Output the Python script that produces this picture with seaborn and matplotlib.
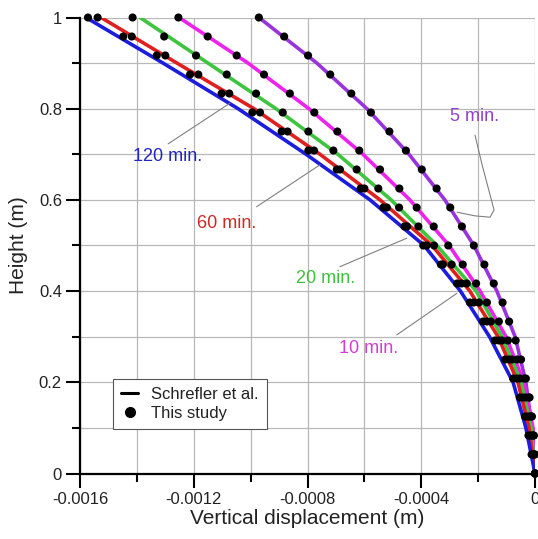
import pandas as pd
import seaborn as sns
import matplotlib.pyplot as plt
from matplotlib.lines import Line2D
from matplotlib.ticker import MultipleLocator

sns.set_theme(style="white")
plt.rcParams['font.family'] = ['Liberation Sans', 'DejaVu Sans']
plt.rcParams['axes.unicode_minus'] = False

# --- data ---
times = ['5 min.', '10 min.', '20 min.', '60 min.', '120 min.']
colors = {'5 min.': '#9933dd', '10 min.': '#ee22ee', '20 min.': '#3ec43e',
          '60 min.': '#e02020', '120 min.': '#1c1cdc'}
text_colors = {'5 min.': '#9040d0', '10 min.': '#d040d0', '20 min.': '#40c040',
               '60 min.': '#d02828', '120 min.': '#2424c0'}

# Schrefler et al. curves (height in m, displacement in m)
line_height = [1.0, 0.9, 0.8, 0.7, 0.6, 0.5, 0.4, 0.3, 0.2, 0.1, 0.0]
line_5 = [-0.000971, -0.000767, -0.000591, -0.000443, -0.000317, -0.000215,
          -0.000134, -0.000070, -0.000032, -0.000011, 0.0]
line_10 = [-0.001252, -0.001009, -0.000795, -0.000605, -0.000440, -0.000302,
           -0.000193, -0.000102, -0.000039, -0.000007, 0.0]
line_20 = [-0.001389, -0.001150, -0.000911, -0.000693, -0.000506, -0.000345,
           -0.000207, -0.000116, -0.000049, -0.000014, 0.0]
line_60 = [-0.001526, -0.001259, -0.000988, -0.000756, -0.000545, -0.000362,
           -0.000229, -0.000130, -0.000060, -0.000021, 0.0]
line_120 = [-0.001579, -0.001308, -0.001044, -0.000805, -0.000580, -0.000390,
            -0.000262, -0.000160, -0.000077, -0.000032, 0.0]

# This study (dots)
dot_height = [1.0, 0.9583, 0.9167, 0.875, 0.8333, 0.7917, 0.75, 0.7083, 0.6667,
              0.625, 0.5833, 0.5417, 0.5, 0.4583, 0.4167, 0.375, 0.3333, 0.2917,
              0.25, 0.2083, 0.1667, 0.125, 0.0833, 0.0417, 0.0]
dot_5 = [-0.000971, -0.000882, -0.000798, -0.000720, -0.000646, -0.000577,
         -0.000512, -0.000454, -0.000398, -0.000346, -0.000298, -0.000257,
         -0.000215, -0.000178, -0.000145, -0.000114, -0.000091, -0.000068,
         -0.000049, -0.000032, -0.000019, -0.000011, -0.000004, 0.0, 0.0]
dot_10 = [-0.001254, -0.001151, -0.001049, -0.000953, -0.000862, -0.000776,
          -0.000695, -0.000618, -0.000545, -0.000477, -0.000416, -0.000356,
          -0.000305, -0.000254, -0.000207, -0.000169, -0.000127, -0.000095,
          -0.000063, -0.000039, -0.000021, -0.000012, -0.000005, -0.000002, 0.0]
dot_20 = [-0.001415, -0.001304, -0.001192, -0.001084, -0.000981, -0.000887,
          -0.000797, -0.000709, -0.000627, -0.000551, -0.000478, -0.000410,
          -0.000355, -0.000293, -0.000240, -0.000197, -0.000155, -0.000116,
          -0.000081, -0.000053, -0.000032, -0.000019, -0.000011, -0.000004, 0.0]
dot_60 = [-0.001538, -0.001418, -0.001300, -0.001184, -0.001075, -0.000967,
          -0.000870, -0.000777, -0.000686, -0.000600, -0.000521, -0.000450,
          -0.000381, -0.000324, -0.000258, -0.000215, -0.000169, -0.000127,
          -0.000091, -0.000063, -0.000042, -0.000026, -0.000016, -0.000007, 0.0]
dot_120 = [-0.001572, -0.001448, -0.001330, -0.001213, -0.001102, -0.000994,
           -0.000891, -0.000797, -0.000697, -0.000613, -0.000533, -0.000459,
           -0.000393, -0.000331, -0.000274, -0.000229, -0.000183, -0.000141,
           -0.000105, -0.000077, -0.000053, -0.000035, -0.000023, -0.000012, 0.0]

x_ticks = [-0.0016, -0.0012, -0.0008, -0.0004, 0.0]
x_ticklabels = ['-0.0016', '-0.0012', '-0.0008', '-0.0004', '0']
y_ticks = [0.0, 0.2, 0.4, 0.6, 0.8, 1.0]
y_ticklabels = ['0', '0.2', '0.4', '0.6', '0.8', '1']

lines = {'5 min.': line_5, '10 min.': line_10, '20 min.': line_20,
         '60 min.': line_60, '120 min.': line_120}
dots = {'5 min.': dot_5, '10 min.': dot_10, '20 min.': dot_20,
        '60 min.': dot_60, '120 min.': dot_120}

df_lines = pd.concat([pd.DataFrame({'disp': lines[t], 'height': line_height, 'time': t})
                      for t in times], ignore_index=True)
df_dots = pd.concat([pd.DataFrame({'disp': dots[t], 'height': dot_height, 'time': t})
                     for t in times], ignore_index=True)

# --- plot ---
fig = plt.figure(figsize=(5.38, 5.39), dpi=100)
ax = fig.add_axes([80 / 538, 1 - 473.5 / 539, 455 / 538, 456 / 539])

sns.lineplot(data=df_lines, x='disp', y='height', hue='time', hue_order=times,
             palette=colors, sort=False, estimator=None, linewidth=2.6,
             legend=False, ax=ax, zorder=2)
sns.scatterplot(data=df_dots, x='disp', y='height', color='black', s=34,
                edgecolor='none', legend=False, ax=ax, zorder=3, clip_on=False)

ax.set_xlim(-0.0016, 0)
ax.set_ylim(0, 1)
ax.set_xticks(x_ticks)
ax.set_xticklabels(x_ticklabels)
ax.set_yticks(y_ticks)
ax.set_yticklabels(y_ticklabels)
ax.xaxis.set_minor_locator(MultipleLocator(0.0002))
ax.yaxis.set_minor_locator(MultipleLocator(0.1))
ax.grid(which='both', color='#b8b8b8', linewidth=0.9)
ax.set_axisbelow(True)

for side in ['top', 'right']:
    ax.spines[side].set_visible(False)
for side in ['left', 'bottom']:
    ax.spines[side].set_color('black')
    ax.spines[side].set_linewidth(1.6)
ax.tick_params(which='major', direction='out', length=10, width=1.5,
               color='black', labelsize=12, labelcolor='#222222', pad=3,
               bottom=True, left=True)
ax.tick_params(which='minor', direction='out', length=5.5, width=1.5,
               color='black', bottom=True, left=True)

ax.set_xlabel('Vertical displacement (m)', fontsize=15, color='#222222', labelpad=2)
ax.set_ylabel('Height (m)', fontsize=15, color='#222222', labelpad=8)

# curve labels with leader lines
lead = dict(color='#808080', linewidth=0.8, zorder=4)
ax.text(-0.001291, 0.696, '120 min.', color=text_colors['120 min.'], fontsize=13,
        ha='center', va='center')
ax.plot([-0.001290, -0.001073], [0.723, 0.812], **lead)
ax.text(-0.001083, 0.549, '60 min.', color=text_colors['60 min.'], fontsize=13,
        ha='center', va='center')
ax.plot([-0.000979, -0.000756], [0.585, 0.677], **lead)
ax.text(-0.000738, 0.428, '20 min.', color=text_colors['20 min.'], fontsize=13,
        ha='center', va='center')
ax.plot([-0.000686, -0.000451], [0.4535, 0.516], **lead)
ax.text(-0.000584, 0.275, '10 min.', color=text_colors['10 min.'], fontsize=13,
        ha='center', va='center')
ax.plot([-0.000486, -0.000275], [0.304, 0.395], **lead)
ax.text(-0.000211, 0.782, '5 min.', color=text_colors['5 min.'], fontsize=13,
        ha='center', va='center')
ax.plot([-0.000211, -0.000186, -0.000158, -0.000144, -0.000158, -0.000211, -0.000274],
        [0.742, 0.677, 0.611, 0.578, 0.562, 0.565, 0.573], **lead)

handles = [Line2D([0], [0], color='black', linewidth=2.2),
           Line2D([0], [0], color='black', marker='o', linestyle='none', markersize=7)]
leg = ax.legend(handles, ['Schrefler et al.', 'This study'], loc='lower left',
                bbox_to_anchor=(0.0725, 0.0976), borderaxespad=0, fontsize=12,
                frameon=True, fancybox=False, edgecolor='#555555', framealpha=1,
                handlelength=1.0, handletextpad=0.8, borderpad=0.5, labelspacing=0.2)
leg.get_frame().set_linewidth(0.8)
for t in leg.get_texts():
    t.set_color('#222222')

plt.savefig('out.png', dpi=100)
plt.close()
